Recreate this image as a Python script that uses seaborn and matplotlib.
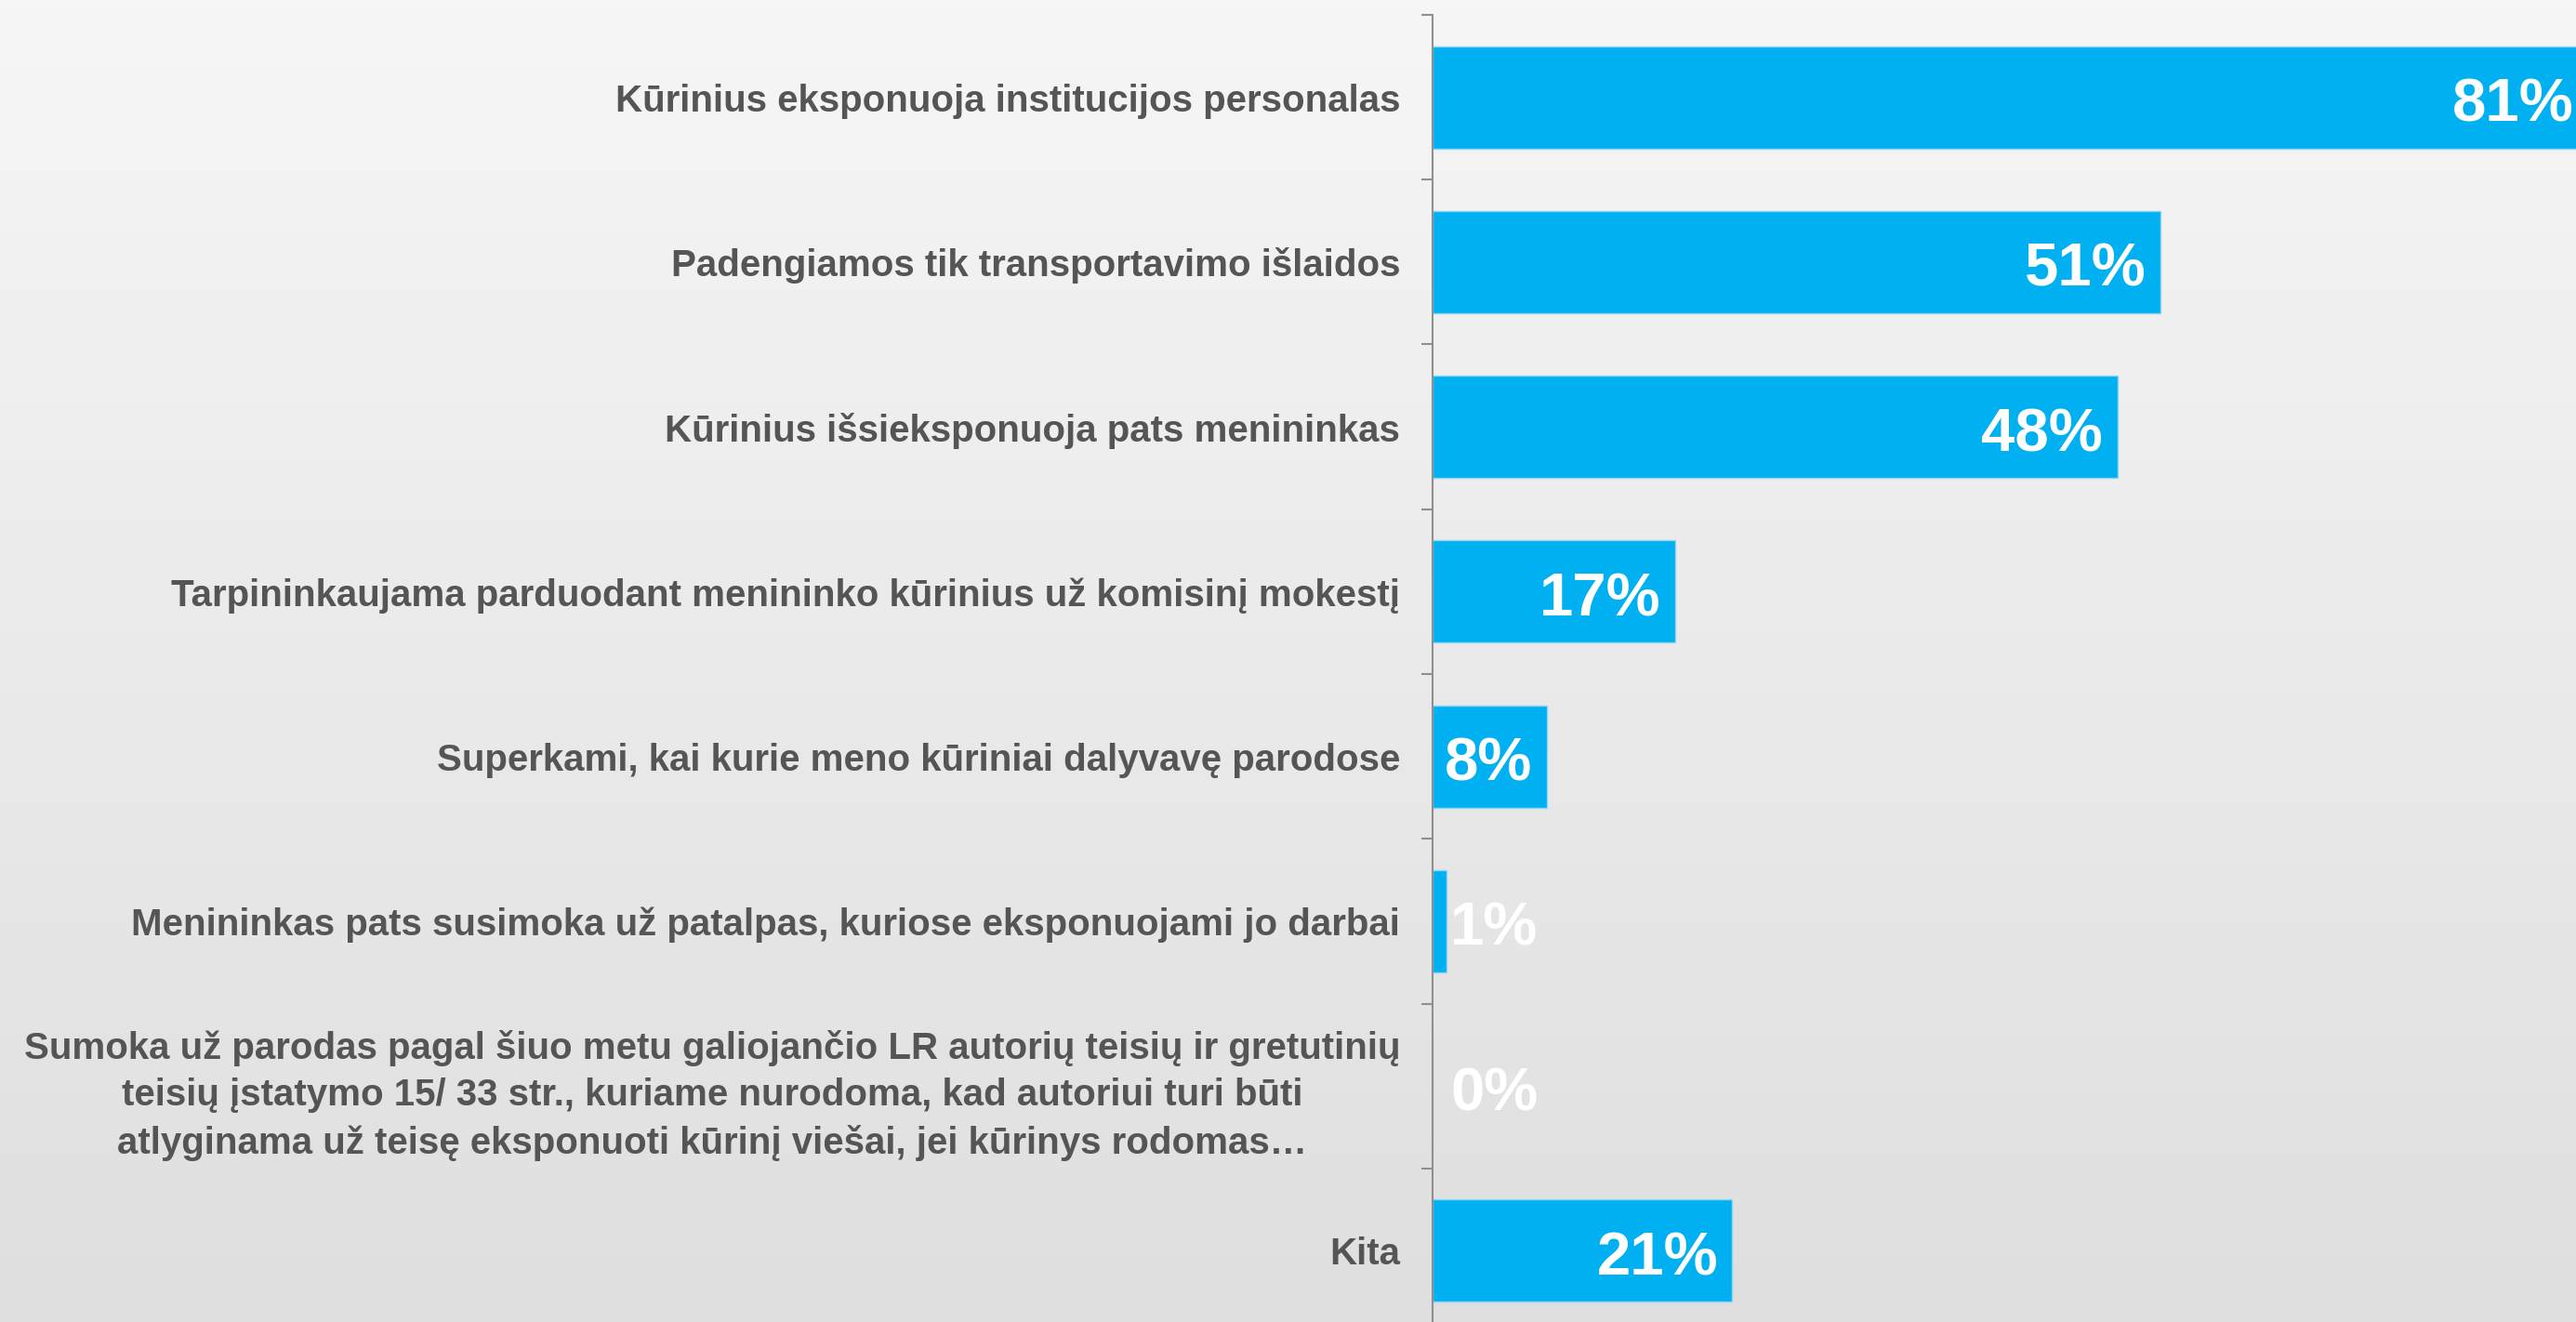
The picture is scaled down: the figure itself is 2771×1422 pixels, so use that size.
import numpy as np
import pandas as pd
import matplotlib
matplotlib.use("Agg")
import matplotlib.pyplot as plt
from matplotlib.colors import LinearSegmentedColormap
from matplotlib.ticker import FixedLocator
import seaborn as sns

categories = [
    "Kūrinius eksponuoja institucijos personalas",
    "Padengiamos tik transportavimo išlaidos",
    "Kūrinius išsieksponuoja pats menininkas",
    "Tarpininkaujama parduodant menininko kūrinius už komisinį mokestį",
    "Superkami, kai kurie meno kūriniai dalyvavę parodose",
    "Menininkas pats susimoka už patalpas, kuriose eksponuojami jo darbai",
    "Sumoka už parodas pagal šiuo metu galiojančio LR autorių teisių ir gretutinių\n"
    "teisių įstatymo 15/ 33 str., kuriame nurodoma, kad autoriui turi būti\n"
    "atlyginama už teisę eksponuoti kūrinį viešai, jei kūrinys rodomas…",
    "Kita",
]
values = [81, 51, 48, 17, 8, 1, 0, 21]
value_labels = ["81%", "51%", "48%", "17%", "8%", "1%", "0%", "21%"]

df = pd.DataFrame({"category": categories, "value": values})

sns.set_theme(style="white")
plt.rcParams["font.family"] = ["Liberation Sans", "DejaVu Sans"]

W, H = 2771, 1422
dpi = 100
fig = plt.figure(figsize=(W / dpi, H / dpi), dpi=dpi)

# background gradient
bg = fig.add_axes([0, 0, 1, 1], zorder=-10)
cmap = LinearSegmentedColormap.from_list("bg", ["#f6f6f6", "#dfdfdf"])
grad = np.linspace(0, 1, 256).reshape(-1, 1)
bg.imshow(grad, aspect="auto", cmap=cmap, extent=[0, 1, 0, 1], origin="upper")
bg.axis("off")

ax_left = 1541 / W
ax_top = 1 - 16 / H
ax_bottom = 1 - 1434 / H
ax_width = 1243 / W
ax = fig.add_axes([ax_left, ax_bottom, ax_width, ax_top - ax_bottom])
ax.set_facecolor("none")

sns.barplot(data=df, x="value", y="category", orient="h", color="#00B0F0",
            saturation=1, width=0.62, edgecolor="#8fd6f4", linewidth=1.0, ax=ax)

ax.set_xlim(0, 81)
ax.set_ylim(len(categories) - 0.5, -0.5)
ax.set_xlabel("")
ax.set_ylabel("")
ax.set_xticks([])

for s in ["top", "right", "bottom"]:
    ax.spines[s].set_visible(False)
ax.spines["left"].set_color("#8f8f8f")
ax.spines["left"].set_linewidth(1.5)

ax.tick_params(axis="y", which="major", length=0, pad=25)
ax.yaxis.set_minor_locator(FixedLocator(np.arange(-0.5, len(categories), 1.0)))
ax.tick_params(axis="y", which="minor", length=8.6, width=1.5, color="#8f8f8f", left=True)

for lbl in ax.get_yticklabels():
    lbl.set_fontsize(29)
    lbl.set_fontweight("bold")
    lbl.set_color("#555555")
    lbl.set_multialignment("center")
    lbl.set_linespacing(1.42)

for i, (v, t) in enumerate(zip(values, value_labels)):
    if v >= 5:
        ax.text(v - 1.0, i + 0.147, t, ha="right", va="baseline", color="white",
                fontsize=47, fontweight="bold")
    else:
        ax.text(max(v, 1.1) + 0.15, i + 0.147, t, ha="left", va="baseline", color="white",
                fontsize=47, fontweight="bold")

fig.savefig("out.png", dpi=dpi)
